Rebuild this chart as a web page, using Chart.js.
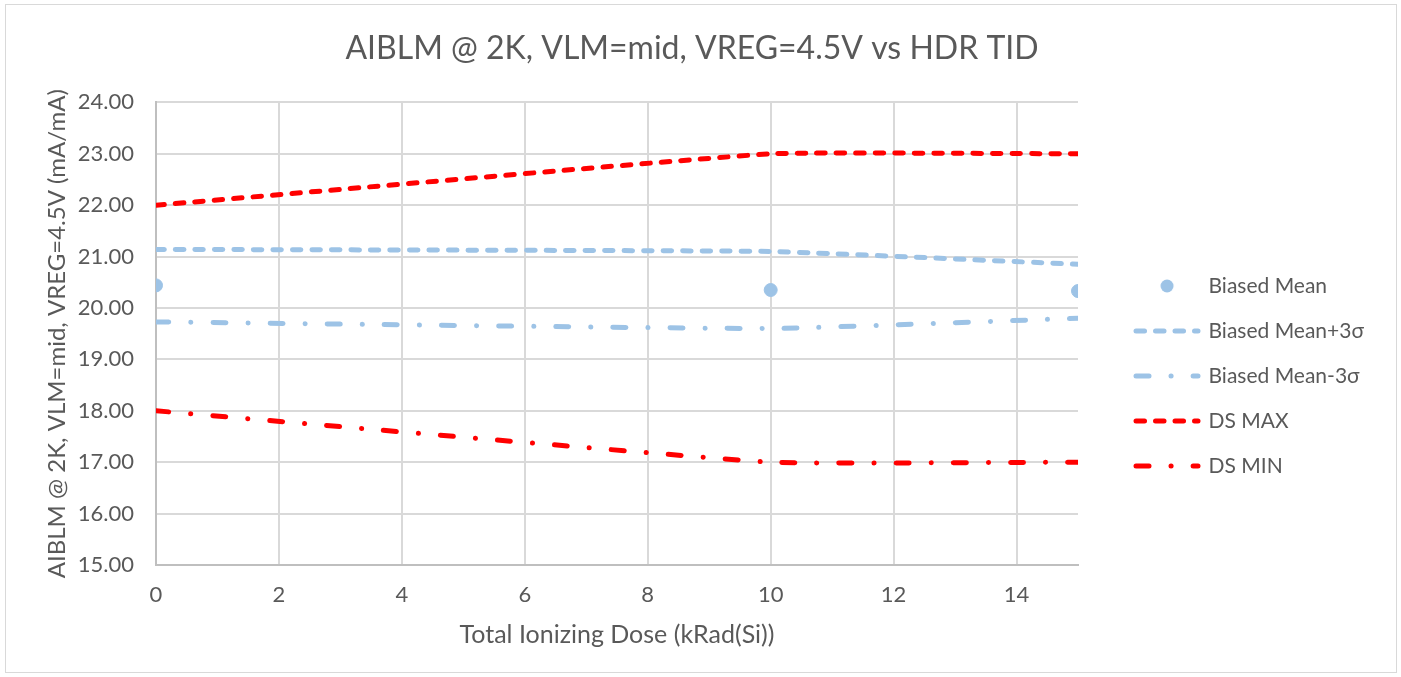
<!DOCTYPE html>
<html>
<head>
<meta charset="utf-8">
<script src="https://cdn.jsdelivr.net/npm/chart.js@4"></script>
<style>
  html, body { margin: 0; padding: 0; background: #fff; }
  #wrap { position: relative; width: 1401px; height: 677px; }
</style>
</head>
<body>
<div id="wrap"><canvas id="tidChart" width="1401" height="677"></canvas></div>
<script>
const doses = [0, 10, 15];
const biasedMean = [20.44, 20.35, 20.33];
const meanPlus3s = [21.14, 21.10, 20.85];
const meanMinus3s = [19.73, 19.60, 19.80];
const dsMax = [22.00, 23.00, 23.00];
const dsMin = [18.00, 17.00, 17.00];
const seriesNames = ['Biased Mean', 'Biased Mean+3σ', 'Biased Mean-3σ', 'DS MAX', 'DS MIN'];
const xTicks = [0, 2, 4, 6, 8, 10, 12, 14];

(function(){
  const ctx = document.getElementById('tidChart');
  const blue = '#9DC3E6';
  const red = '#FF0000';
  const textColor = '#595959';
  const dashed = [8.5, 11];
  const dashDot = [13, 22, 0.1, 22];

  const toPoints = (ys) => doses.map((x, i) => ({ x: x, y: ys[i] }));

  // legend marker for the scatter series
  const dot = document.createElement('canvas');
  dot.width = 16; dot.height = 16;
  const dctx = dot.getContext('2d');
  dctx.fillStyle = blue;
  dctx.beginPath();
  dctx.arc(8, 8, 6.5, 0, Math.PI * 2);
  dctx.fill();

  const lineSet = (label, ys, color, dash) => ({
    label: label,
    data: toPoints(ys),
    showLine: true,
    borderColor: color,
    backgroundColor: color,
    borderWidth: 5,
    borderDash: dash,
    borderCapStyle: 'round',
    tension: 0.1,
    pointRadius: 0,
    pointHoverRadius: 0
  });

  const frame = {
    id: 'frame',
    beforeDraw(chart) {
      const c = chart.ctx;
      c.save();
      c.strokeStyle = '#d9d9d9';
      c.lineWidth = 1;
      c.strokeRect(5.5, 4.5, 1391, 668);
      c.restore();
    }
  };

  new Chart(ctx, {
    type: 'scatter',
    data: {
      datasets: [
        {
          label: seriesNames[0],
          data: toPoints(biasedMean),
          backgroundColor: blue,
          borderColor: blue,
          pointRadius: 6.5,
          pointHoverRadius: 6.5
        },
        lineSet(seriesNames[1], meanPlus3s, blue, dashed),
        lineSet(seriesNames[2], meanMinus3s, blue, dashDot),
        lineSet(seriesNames[3], dsMax, red, dashed),
        lineSet(seriesNames[4], dsMin, red, dashDot)
      ]
    },
    options: {
      responsive: false,
      animation: false,
      layout: {
        padding: { left: 10, right: 27, top: 0, bottom: 27 }
      },
      scales: {
        x: {
          type: 'linear',
          min: 0,
          max: 15,
          afterBuildTicks: (scale) => { scale.ticks = xTicks.map(v => ({ value: v })); },
          afterFit: (scale) => { scale.height = 85; },
          grid: { color: '#d9d9d9', lineWidth: 2, drawTicks: false },
          border: { color: '#bfbfbf', width: 2 },
          ticks: {
            color: textColor,
            padding: 17,
            font: { family: 'Lato', size: 22 }
          },
          title: {
            display: true,
            text: 'Total Ionizing Dose (kRad(Si))',
            color: textColor,
            padding: { top: 0, bottom: 0 },
            font: { family: 'Lato', size: 25 }
          }
        },
        y: {
          min: 15,
          max: 24,
          afterFit: (scale) => { scale.width = 146; },
          grid: { color: '#d9d9d9', lineWidth: 2, drawTicks: false },
          border: { color: '#bfbfbf', width: 2 },
          ticks: {
            stepSize: 1,
            color: textColor,
            padding: 22,
            font: { family: 'Lato', size: 22 },
            callback: (v) => v.toFixed(2)
          },
          title: {
            display: true,
            text: 'AIBLM @ 2K, VLM=mid, VREG=4.5V (mA/mA)',
            color: textColor,
            padding: { top: 33, bottom: 0 },
            font: { family: 'Lato', size: 24 }
          }
        },
        // empty right axis: keeps the gap between plot and legend
        gap: {
          type: 'linear',
          position: 'right',
          display: true,
          afterFit: (scale) => { scale.width = 34; },
          grid: { display: false },
          border: { display: false },
          ticks: { display: false }
        }
      },
      plugins: {
        title: {
          display: true,
          text: 'AIBLM @ 2K, VLM=mid, VREG=4.5V vs HDR TID',
          color: textColor,
          padding: { top: 29, bottom: 35 },
          font: { family: 'Lato', size: 32, weight: 'normal' }
        },
        legend: {
          position: 'right',
          maxWidth: 330,
          title: {
            display: true,
            text: ' ',
            padding: { top: 45, bottom: 45 },
            font: { size: 10 }
          },
          labels: {
            usePointStyle: true,
            pointStyleWidth: 62,
            padding: 24,
            color: textColor,
            font: { family: 'Lato', size: 21 },
            generateLabels: (chart) => chart.data.datasets.map((ds, i) => ({
              text: ds.label,
              datasetIndex: i,
              fillStyle: ds.backgroundColor,
              strokeStyle: ds.borderColor,
              lineWidth: i === 0 ? 0 : 5,
              lineDash: i === 0 ? [] : ds.borderDash,
              lineCap: 'round',
              pointStyle: i === 0 ? dot : 'line',
              fontColor: textColor
            }))
          }
        },
        tooltip: { enabled: false }
      }
    },
    plugins: [frame]
  });
})();
</script>
</body>
</html>
